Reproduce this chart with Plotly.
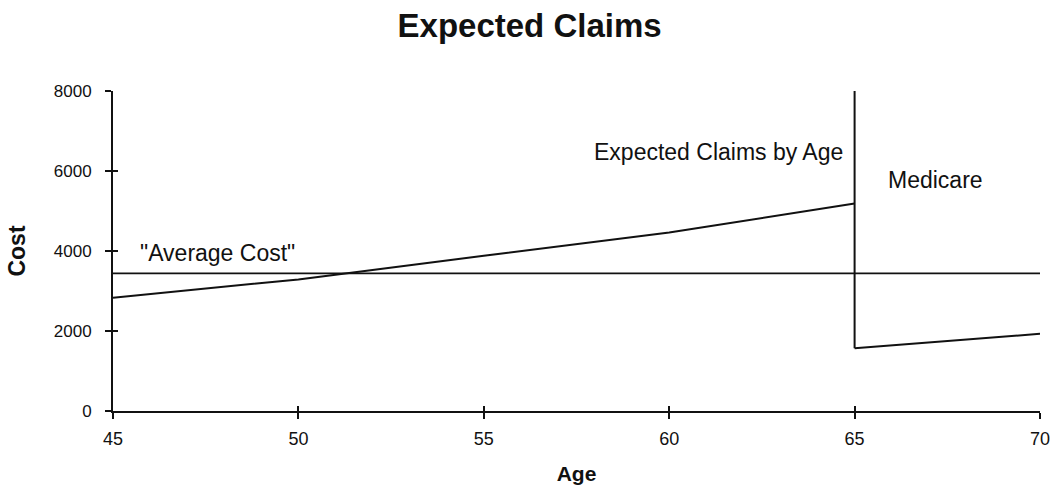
import plotly.graph_objects as go

# Data
ages_pre = [45, 50, 55, 60, 65]
claims_pre = [2830, 3290, 3880, 4460, 5190]
ages_post = [65, 70]
claims_post = [1570, 1930]
avg_cost = 3440
medicare_line_ages = [65, 65]
medicare_line_cost = [8000, 1570]
x_ticks = [45, 50, 55, 60, 65, 70]
y_ticks = [0, 2000, 4000, 6000, 8000]

INK = "#111111"
LINE = dict(color=INK, width=2)
FONT = "Arial, Liberation Sans, Helvetica, sans-serif"

fig = go.Figure()
fig.add_trace(go.Scatter(x=ages_pre, y=claims_pre, mode="lines", line=LINE,
                         showlegend=False, hoverinfo="skip"))
fig.add_trace(go.Scatter(x=ages_post, y=claims_post, mode="lines", line=LINE,
                         showlegend=False, hoverinfo="skip"))
fig.add_trace(go.Scatter(x=medicare_line_ages, y=medicare_line_cost, mode="lines",
                         line=LINE, showlegend=False, hoverinfo="skip"))
fig.add_trace(go.Scatter(x=[x_ticks[0], x_ticks[-1]], y=[avg_cost, avg_cost], mode="lines",
                         line=dict(color=INK, width=1.6), showlegend=False, hoverinfo="skip"))
# dummy trace for overlay axes (inner half of the cross ticks)
fig.add_trace(go.Scatter(x=[x_ticks[0]], y=[y_ticks[0]], mode="markers",
                         marker=dict(opacity=0), xaxis="x2", yaxis="y2",
                         showlegend=False, hoverinfo="skip"))

axis_common = dict(showgrid=False, zeroline=False, showline=True, linecolor=INK,
                   linewidth=2, ticks="outside", ticklen=6, tickwidth=2, tickcolor=INK,
                   automargin=False)

fig.update_layout(
    width=1055, height=491,
    margin=dict(l=113, r=15, t=91, b=80),
    paper_bgcolor="white", plot_bgcolor="white",
    title=dict(text="<b>Expected Claims</b>", x=0.502, xanchor="center", y=0.948, yanchor="middle",
               font=dict(family=FONT, size=33, color=INK)),
    xaxis=dict(range=[45, 70], tickvals=x_ticks, ticklabelstandoff=4,
               tickfont=dict(family=FONT, size=18, color=INK),
               title=dict(text="<b>Age</b>", font=dict(family=FONT, size=21, color=INK), standoff=19),
               **axis_common),
    yaxis=dict(range=[0, 8000], tickvals=y_ticks, ticklabelstandoff=10,
               tickfont=dict(family=FONT, size=17, color=INK),
               title=dict(text="<b>Cost</b>", font=dict(family=FONT, size=23, color=INK), standoff=22),
               **axis_common),
    xaxis2=dict(overlaying="x", anchor="y2", range=[45, 70], tickvals=x_ticks, showticklabels=False,
                showgrid=False, zeroline=False, showline=False, ticks="inside", ticklen=5,
                tickwidth=2, tickcolor=INK, side="bottom", automargin=False),
    yaxis2=dict(overlaying="y", anchor="x2", range=[0, 8000], tickvals=y_ticks, showticklabels=False,
                showgrid=False, zeroline=False, showline=False, ticks="inside", ticklen=5,
                tickwidth=2, tickcolor=INK, side="left", automargin=False),
)

ann_font = dict(family=FONT, size=23, color=INK)
fig.add_annotation(x=45.67, y=3960, text='"Average Cost"', showarrow=False,
                   xanchor="left", yanchor="middle", font=ann_font)
fig.add_annotation(x=57.92, y=6475, text="Expected Claims by Age", showarrow=False,
                   xanchor="left", yanchor="middle", font=ann_font)
fig.add_annotation(x=65.85, y=5775, text="Medicare", showarrow=False,
                   xanchor="left", yanchor="middle", font=ann_font)

fig.write_html("out.html", config={"displayModeBar": False},
               post_script="document.body.style.margin='0';document.body.style.overflow='hidden';")
